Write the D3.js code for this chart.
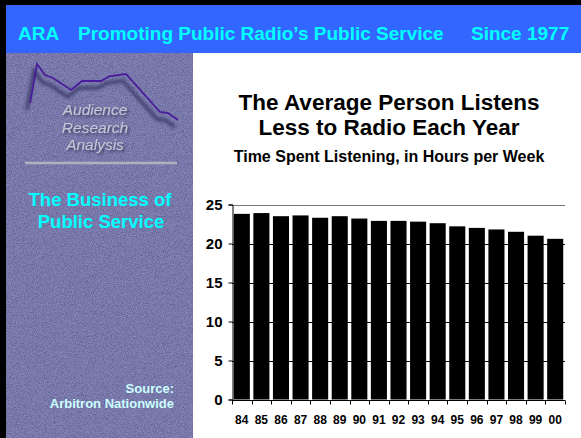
<!DOCTYPE html>
<html>
<head>
<meta charset="utf-8">
<script src="https://cdn.jsdelivr.net/npm/d3@7"></script>
<style>
  body { margin: 0; background: #fff; }
  svg { display: block; font-family: Arial, "Liberation Sans", sans-serif; }
</style>
</head>
<body>
<div id="content"></div>
<script>
// data
var years = ["84", "85", "86", "87", "88", "89", "90", "91", "92", "93", "94", "95", "96", "97", "98", "99", "00"];
var hours = [23.8, 23.9, 23.5, 23.6, 23.3, 23.5, 23.2, 22.9, 22.9, 22.8, 22.6, 22.2, 22.0, 21.8, 21.5, 21.0, 20.6];
var yTicks = [0, 5, 10, 15, 20, 25];

// decorative trace in the logo
var logoTrace = [[30, 103], [37, 64], [45, 75], [53, 78], [71, 90], [82, 81], [101, 81], [110, 76], [126, 74], [160, 112], [168, 113], [178, 120]];
var logoWords = ["Audience", "Research", "Analysis"];

var width = 581, height = 438;

var svg = d3.select("#content")
    .append("svg")
    .attr("width", width)
    .attr("height", height);

var defs = svg.append("defs");

// grainy texture for the left panel: base colour multiplied by noise
var grain = defs.append("filter").attr("id", "grain")
    .attr("x", 0).attr("y", 0).attr("width", "100%").attr("height", "100%");
grain.append("feTurbulence")
    .attr("type", "fractalNoise")
    .attr("baseFrequency", "1.1")
    .attr("numOctaves", 3)
    .attr("seed", 7)
    .attr("result", "noise");
grain.append("feColorMatrix")
    .attr("in", "noise")
    .attr("type", "matrix")
    .attr("values", "2.2 0 0 0 -0.6  2.2 0 0 0 -0.6  2.2 0 0 0 -0.6  0 0 0 0 1")
    .attr("result", "gray");
grain.append("feComposite")
    .attr("in", "SourceGraphic").attr("in2", "gray")
    .attr("operator", "arithmetic")
    .attr("k1", 0.6).attr("k2", 0.7).attr("k3", 0).attr("k4", 0);

var blur = defs.append("filter").attr("id", "soft");
blur.append("feGaussianBlur").attr("stdDeviation", 1.4);

var drop = defs.append("filter").attr("id", "drop")
    .attr("x", "-10%").attr("y", "-20%").attr("width", "130%").attr("height", "160%");
drop.append("feDropShadow")
    .attr("dx", 2).attr("dy", 2).attr("stdDeviation", 1)
    .attr("flood-color", "#2e2e58").attr("flood-opacity", 0.8);

// frame
svg.append("rect").attr("x", 0).attr("y", 0).attr("width", width).attr("height", 5).attr("fill", "#000");
svg.append("rect").attr("x", 0).attr("y", 0).attr("width", 6).attr("height", height).attr("fill", "#000");

// header band
svg.append("rect").attr("x", 6).attr("y", 5).attr("width", width - 6).attr("height", 48).attr("fill", "#3366ff");
var header = svg.append("g")
    .attr("fill", "#00ffff")
    .style("font-weight", "bold")
    .style("font-size", "19px");
header.append("text").attr("x", 18).attr("y", 40).text("ARA");
header.append("text").attr("x", 78).attr("y", 40).text("Promoting Public Radio\u2019s Public Service");
header.append("text").attr("x", 471).attr("y", 40).text("Since 1977");

// left panel
svg.append("rect").attr("x", 6).attr("y", 53).attr("width", 187).attr("height", height - 53)
    .attr("fill", "#7878aa").attr("filter", "url(#grain)");

var trace = d3.line();
svg.append("path")
    .attr("d", trace(logoTrace.map(function (p) { return [p[0] - 3, p[1] + 7]; })))
    .attr("fill", "none").attr("stroke", "#3a3a68").attr("stroke-width", 4)
    .attr("opacity", 0.8).attr("filter", "url(#soft)");
svg.append("path")
    .attr("d", trace(logoTrace))
    .attr("fill", "none").attr("stroke", "#4a1c9c").attr("stroke-width", 1.8);

svg.append("g")
    .selectAll("text")
    .data(logoWords)
    .enter()
    .append("text")
    .attr("x", 95).attr("y", function (d, i) { return 115 + i * 17.5; })
    .attr("text-anchor", "middle")
    .style("font-style", "italic").style("font-size", "15.5px")
    .attr("fill", "#c6c6d4")
    .attr("filter", "url(#drop)")
    .text(function (d) { return d; });

svg.append("line").attr("x1", 26).attr("x2", 178).attr("y1", 165).attr("y2", 165)
    .attr("stroke", "#3a3a66").attr("stroke-width", 3).attr("opacity", 0.8).attr("filter", "url(#soft)");
svg.append("line").attr("x1", 25).attr("x2", 177).attr("y1", 163).attr("y2", 163)
    .attr("stroke", "#b0b0be").attr("stroke-width", 2.5);

var tagline = svg.append("g")
    .attr("fill", "#00ffff")
    .attr("text-anchor", "middle")
    .style("font-weight", "bold")
    .style("font-size", "18.5px");
tagline.append("text").attr("x", 100).attr("y", 206).text("The Business of");
tagline.append("text").attr("x", 101).attr("y", 228).text("Public Service");

var source = svg.append("g")
    .attr("fill", "#ccffff")
    .attr("text-anchor", "end")
    .style("font-weight", "bold")
    .style("font-size", "13px");
source.append("text").attr("x", 174).attr("y", 393).text("Source:");
source.append("text").attr("x", 174).attr("y", 408).text("Arbitron Nationwide");

// chart titles
var titles = svg.append("g").attr("text-anchor", "middle").attr("fill", "#000").style("font-weight", "bold");
titles.append("text").attr("x", 389).attr("y", 110).style("font-size", "22.5px").text("The Average Person Listens");
titles.append("text").attr("x", 389).attr("y", 135).style("font-size", "22.5px").text("Less to Radio Each Year");
titles.append("text").attr("x", 389).attr("y", 162).style("font-size", "16px").text("Time Spent Listening, in Hours per Week");

// plot
var plot = { left: 232, right: 565, top: 204.5, bottom: 399.5 };

var x = d3.scaleBand()
    .domain(years)
    .range([plot.left, plot.right])
    .paddingInner(0.18)
    .paddingOuter(0.09);

var y = d3.scaleLinear()
    .domain([0, 25])
    .range([plot.bottom, plot.top]);

// gridlines
svg.append("g")
    .selectAll("line")
    .data(yTicks.filter(function (d) { return d > 0; }))
    .enter()
    .append("line")
    .attr("x1", plot.left).attr("x2", plot.right)
    .attr("y1", function (d) { return Math.round(y(d)) + 0.5; })
    .attr("y2", function (d) { return Math.round(y(d)) + 0.5; })
    .attr("stroke", function (d) { return d === 25 ? "#777" : "#000"; })
    .attr("stroke-width", 1);

// bars
svg.append("g")
    .selectAll("rect")
    .data(hours)
    .enter()
    .append("rect")
    .attr("x", function (d, i) { return x(years[i]); })
    .attr("y", function (d) { return y(d); })
    .attr("width", x.bandwidth())
    .attr("height", function (d) { return y(0) - y(d); })
    .attr("fill", "#000");

// y axis
var yAxis = svg.append("g")
    .attr("transform", "translate(" + (plot.left + 0.5) + ",0)")
    .call(d3.axisLeft(y).tickValues(yTicks).tickSize(4).tickPadding(6).tickFormat(d3.format("d")));
yAxis.select(".domain").attr("stroke", "#000");
yAxis.selectAll(".tick text")
    .style("font-size", "15px").style("font-weight", "bold")
    .style("font-family", "Arial, 'Liberation Sans', sans-serif")
    .attr("fill", "#000");

// x axis, ticks at category boundaries
var xAxis = svg.append("g")
    .attr("transform", "translate(0," + (Math.round(plot.bottom) + 0.5) + ")");
xAxis.append("line")
    .attr("x1", plot.left).attr("x2", plot.right)
    .attr("stroke", "#000");
xAxis.selectAll("line.tick")
    .data(years.concat([null]))
    .enter()
    .append("line")
    .attr("class", "tick")
    .attr("x1", function (d, i) { return Math.round(plot.left + i * x.step()) + 0.5; })
    .attr("x2", function (d, i) { return Math.round(plot.left + i * x.step()) + 0.5; })
    .attr("y1", 0).attr("y2", 4)
    .attr("stroke", "#000");
xAxis.selectAll("text")
    .data(years)
    .enter()
    .append("text")
    .attr("x", function (d) { return x(d) + x.bandwidth() / 2; })
    .attr("y", 23)
    .attr("text-anchor", "middle")
    .style("font-size", "12px").style("font-weight", "bold")
    .text(function (d) { return d; });
</script>
</body>
</html>
